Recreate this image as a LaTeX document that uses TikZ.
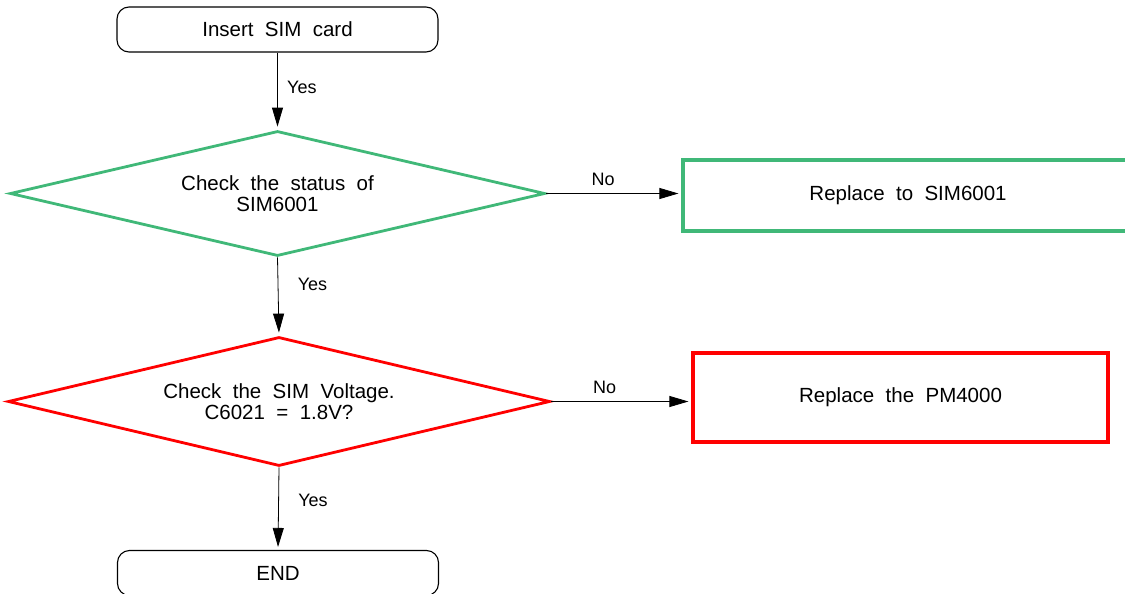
\documentclass[tikz,border=0pt]{standalone}
\usepackage{fontspec}
\setmainfont[WordSpace=2]{Liberation Sans}
\usepackage{xcolor}
\usetikzlibrary{positioning}
\usetikzlibrary{shapes.geometric}
\usetikzlibrary{arrows.meta}
\definecolor{simgreen}{RGB}{64,184,120}
\tikzset{
	term/.style={draw,
			rounded corners=12pt,
			line width=1.1pt,
			minimum width=321pt,
			minimum height=45pt,
			font=\fontsize{20.5}{21}\selectfont
		},
	decide/.style={draw,
			diamond,
			aspect=4,
			inner sep=0pt,
			line width=2.8pt,
			align=center,
			font=\fontsize{20.5}{21}\selectfont
		},
	fixbox/.style={draw,
			line width=3.3pt,
			font=\fontsize{20.5}{21}\selectfont
		},
	flow/.style={-{Triangle[length=19pt,width=11pt]},
			line width=0.8pt,
			shorten >=3pt
		},
	lbl/.style={font=\fontsize{18}{20}\selectfont}
}
\begin{document}
\begin{tikzpicture}[x=1pt,y=-1pt]
		\useasboundingbox (0,0) rectangle (1125,594);

		% Start
		\node[term] (start) at (277.5,29.5) {Insert SIM card};

		% Check SIM socket
		\node[decide,
			draw=simgreen,
			minimum width=535pt,
			minimum height=125pt
		] (sim) at (277.5,193.5) {Check the status of\\SIM6001};

		\node[fixbox,
			draw=simgreen,
			minimum width=450pt,
			minimum height=71pt,
			right=135pt of sim,
			yshift=-2pt
		] (simfix) {Replace to SIM6001};

		% Check voltage
		\node[decide,
			draw=red,
			minimum width=542pt,
			minimum height=129pt
		] (volt) at (279,401.5) {Check the SIM Voltage.\\C6021 = 1.8V?};

		\node[fixbox,
			draw=red,
			minimum width=415pt,
			minimum height=89pt,
			right=140pt of volt,
			yshift=4pt
		] (pmfix) {Replace the PM4000};

		% End
		\node[term] (end) at (278,573) {END};

		% Arrows with text label
		\draw[flow] (start.south) -- (sim.north)
		node[lbl,pos=.45,right=6pt]{Yes};

		\draw[flow] (sim.east) -- (sim.east -| simfix.west)
		node[lbl,pos=.42,above=4pt]{No};

		\draw[flow] (sim.south) -- (volt.north)
		node[lbl,pos=.35,right=16pt]{Yes};

		\draw[flow] (volt.east) -- (volt.east -| pmfix.west)
		node[lbl,pos=.38,above=4pt]{No};

		\draw[flow] (volt.south) -- (end.north)
		node[lbl,pos=.4,right=16pt]{Yes};
	\end{tikzpicture}
\end{document}
